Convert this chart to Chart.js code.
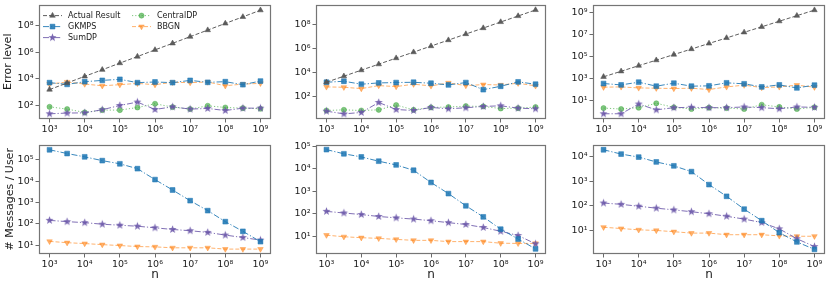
<!DOCTYPE html>
<html>
<head>
<meta charset="utf-8">
<script src="https://cdn.jsdelivr.net/npm/chart.js@4.4.1/dist/chart.umd.min.js"></script>
<style>
  html, body { margin: 0; padding: 0; background: #fff; }
  #fig { position: relative; width: 830px; height: 288px; overflow: hidden; }
  canvas { position: absolute; }
</style>
</head>
<body>
<div id="fig">
  <canvas id="c1" width="280" height="140" style="left:0;top:0"></canvas>
  <canvas id="c2" width="276" height="140" style="left:280px;top:0"></canvas>
  <canvas id="c3" width="274" height="140" style="left:556px;top:0"></canvas>
  <canvas id="c4" width="280" height="148" style="left:0;top:140px"></canvas>
  <canvas id="c5" width="276" height="148" style="left:280px;top:140px"></canvas>
  <canvas id="c6" width="274" height="148" style="left:556px;top:140px"></canvas>
</div>
<script>
/* data */
var nValues = [1000, 3162, 10000, 31623, 100000, 316228, 1000000, 3162278, 10000000, 31622777, 100000000, 316227766, 1000000000];
var xTickExps = [3, 4, 5, 6, 7, 8, 9];

var actualResult = [1.5e3, 4.7e3, 1.5e4, 4.7e4, 1.5e5, 4.7e5, 1.5e6, 4.7e6, 1.5e7, 4.7e7, 1.5e8, 4.7e8, 1.5e9];

// top row: error level
var err1GKMPS = [5000, 3700, 5900, 7400, 8900, 5000, 5600, 5000, 7400, 5300, 5900, 3500, 6600];
var err1SumDP = [22, 25, 26, 45, 94, 169, 47, 74, 50, 56, 39, 59, 59];
var err1CentralDP = [74, 50, 28, 42, 42, 66, 126, 71, 50, 89, 66, 59, 53];
var err1BBGN = [3900, 5600, 3900, 2900, 3500, 4400, 3500, 5300, 5000, 5600, 2900, 3900, 4400];

var err2GKMPS = [1480, 1800, 1020, 1310, 1400, 1480, 1230, 890, 1400, 360, 690, 1590, 1020];
var err2SumDP = [5.9, 3.5, 4.6, 31, 8.1, 6.7, 12, 9.3, 11.3, 14.5, 16.5, 10.5, 9.3];
var err2CentralDP = [6.7, 7.6, 6.7, 7.6, 19, 7.6, 12, 13, 15.5, 14.5, 9.8, 10.5, 13];
var err2BBGN = [610, 570, 440, 780, 650, 1020, 740, 1310, 780, 950, 890, 1230, 740];

var err3GKMPS = [370, 280, 490, 215, 400, 215, 230, 430, 350, 185, 280, 150, 265];
var err3SumDP = [0.71, 0.71, 5.3, 1.6, 2.5, 2.7, 2.5, 2.5, 2.9, 2.5, 2.0, 2.9, 2.7];
var err3CentralDP = [2.3, 1.9, 2.5, 6.2, 2.7, 1.9, 2.5, 2.3, 1.9, 4.6, 2.9, 1.9, 2.7];
var err3BBGN = [174, 185, 150, 141, 132, 141, 107, 185, 265, 162, 185, 265, 174];

// bottom row: messages per user
var msg1GKMPS = [3.0e5, 2.0e5, 1.4e5, 9.3e4, 6.6e4, 3.9e4, 1.2e4, 3.9e3, 1.23e3, 420, 128, 45, 14.7];
var msg1SumDP = [147, 128, 115, 97, 87, 78, 66, 55, 48, 40, 30, 23, 17.5];
var msg1BBGN = [15.2, 13.2, 12, 10.7, 9.7, 8.7, 8.4, 7.6, 7.6, 7.6, 6.6, 6.6, 6.6];

var msg2GKMPS = [7.2e4, 4.7e4, 3.4e4, 2.2e4, 1.5e4, 8.7e3, 2.5e3, 800, 230, 74, 21, 7.7, 2.8];
var msg2SumDP = [130, 110, 94, 77, 67, 59, 50, 41, 34, 25, 17, 11, 4.7];
var msg2BBGN = [11.4, 9.7, 8.8, 8.2, 7.4, 6.7, 6.7, 5.9, 5.9, 5.9, 5.0, 4.9, 4.9];

var msg3GKMPS = [1.95e4, 1.3e4, 9.8e3, 6.2e3, 4.3e3, 2.5e3, 740, 247, 74, 25, 8.1, 3.4, 1.7];
var msg3SumDP = [131, 116, 97, 81, 69, 58, 48, 38, 29, 21, 11.6, 4.6, 2.2];
var msg3BBGN = [13.5, 12, 10.6, 10, 8.9, 7.8, 7.8, 6.7, 6.7, 6.7, 6.0, 5.8, 5.8];

/* look */
Chart.defaults.font.family = "'DejaVu Sans', sans-serif";
Chart.defaults.color = '#1a1a1a';

var SUP = ['\u2070', '\u00b9', '\u00b2', '\u00b3', '\u2074', '\u2075', '\u2076', '\u2077', '\u2078', '\u2079'];
function pow10Label(v) {
  var e = Math.round(Math.log10(v));
  var s = String(Math.abs(e)).split('').map(function(d){ return SUP[+d]; }).join('');
  return '10' + (e < 0 ? '\u207b' : '') + s;
}

// filled 5-point star like matplotlib '*'
function starImage(color, r) {
  var s = Math.ceil(r * 2 + 2);
  var c = document.createElement('canvas');
  c.width = s; c.height = s;
  var g = c.getContext('2d');
  g.fillStyle = color;
  g.beginPath();
  for (var i = 0; i < 10; i++) {
    var rad = i % 2 ? r * 0.42 : r;
    var a = -Math.PI / 2 + i * Math.PI / 5;
    g.lineTo(s / 2 + rad * Math.cos(a), s / 2 + rad * Math.sin(a));
  }
  g.closePath();
  g.fill();
  return c;
}

var styles = {
  'Actual Result': { color: 'rgba(85,85,85,0.95)', dash: [4, 2], point: 'triangle', r: 3.2 },
  'GKMPS': { color: 'rgba(31,119,180,0.88)', dash: [6, 2, 1.2, 2], point: 'rect', r: 3.4 },
  'SumDP': { color: 'rgba(106,86,168,0.85)', dash: [6, 2, 1.2, 2], point: starImage('rgba(106,86,168,0.9)', 4.2), r: 4 },
  'CentralDP': { color: 'rgba(44,160,44,0.6)', dash: [1.2, 2], point: 'circle', r: 2.6 },
  'BBGN': { color: 'rgba(255,127,14,0.6)', dash: [4, 2], point: 'triangle', r: 3.2, rot: 180 }
};

function series(label, values) {
  var st = styles[label];
  return {
    label: label,
    data: nValues.map(function(n, i){ return { x: n, y: values[i] }; }),
    borderColor: st.color,
    borderWidth: 1,
    borderDash: st.dash,
    pointStyle: st.point,
    pointRadius: st.r,
    pointRotation: st.rot || 0,
    pointBackgroundColor: st.color,
    pointBorderColor: st.color,
    pointBorderWidth: 0.6,
    tension: 0,
    fill: false
  };
}

var framePlugin = {
  id: 'frame',
  afterDatasetsDraw: function(chart) {
    var a = chart.chartArea, ctx = chart.ctx;
    ctx.save();
    ctx.strokeStyle = '#757575';
    ctx.lineWidth = 1.2;
    ctx.setLineDash([]);
    ctx.strokeRect(Math.round(a.left) + 0.5, Math.round(a.top) + 0.5,
      Math.round(a.right - a.left) - 1, Math.round(a.bottom - a.top) - 1);
    ctx.restore();
  }
};

var legendPlugin = {
  id: 'mplLegend',
  afterDraw: function(chart) {
    if (!chart.options.plugins.mplLegend || !chart.options.plugins.mplLegend.show) return;
    var a = chart.chartArea, ctx = chart.ctx;
    var colX = [4, 93];
    ctx.save();
    ctx.font = "8px 'DejaVu Sans'";
    ctx.textBaseline = 'middle';
    chart.data.datasets.forEach(function(d, i) {
      var col = i < 3 ? 0 : 1, row = i < 3 ? i : i - 3;
      var x0 = a.left + colX[col], y = a.top + 11 + row * 11;
      ctx.strokeStyle = d.borderColor;
      ctx.lineWidth = 1;
      ctx.setLineDash(d.borderDash);
      ctx.beginPath(); ctx.moveTo(x0, y); ctx.lineTo(x0 + 19, y); ctx.stroke();
      ctx.setLineDash([]);
      ctx.fillStyle = d.pointBackgroundColor;
      ctx.strokeStyle = d.pointBorderColor;
      ctx.lineWidth = d.pointBorderWidth;
      Chart.helpers.drawPoint(ctx, { pointStyle: d.pointStyle, radius: d.pointRadius, rotation: d.pointRotation, borderWidth: d.pointBorderWidth }, x0 + 9.5, y);
      ctx.fillStyle = '#1a1a1a';
      ctx.fillText(d.label, x0 + 25, y + 0.5);
    });
    ctx.restore();
  }
};

var panels = [
  { id: 'c1', row: 0, yw: 39, pr: 9, yLim: [0.95, 9.6], yTicks: [2, 4, 6, 8], title: 'Error level', titlePad: 1.7, legend: true,
    sets: [series('Actual Result', actualResult), series('GKMPS', err1GKMPS), series('SumDP', err1SumDP), series('CentralDP', err1CentralDP), series('BBGN', err1BBGN)] },
  { id: 'c2', row: 0, yw: 36, pr: 10, yLim: [0.12, 9.62], yTicks: [2, 4, 6, 8],
    sets: [series('Actual Result', actualResult), series('GKMPS', err2GKMPS), series('SumDP', err2SumDP), series('CentralDP', err2CentralDP), series('BBGN', err2BBGN)] },
  { id: 'c3', row: 0, yw: 37, pr: 5, yLim: [-0.62, 9.67], yTicks: [1, 3, 5, 7, 9],
    sets: [series('Actual Result', actualResult), series('GKMPS', err3GKMPS), series('SumDP', err3SumDP), series('CentralDP', err3CentralDP), series('BBGN', err3BBGN)] },
  { id: 'c4', row: 1, yw: 39, pr: 9, yLim: [0.59, 5.72], yTicks: [1, 2, 3, 4, 5], title: '# Messages / User', titlePad: 3.4,
    sets: [series('GKMPS', msg1GKMPS), series('SumDP', msg1SumDP), series('BBGN', msg1BBGN)] },
  { id: 'c5', row: 1, yw: 36, pr: 10, yLim: [0.22, 5.08], yTicks: [1, 2, 3, 4, 5],
    sets: [series('GKMPS', msg2GKMPS), series('SumDP', msg2SumDP), series('BBGN', msg2BBGN)] },
  { id: 'c6', row: 1, yw: 37, pr: 5, yLim: [0.04, 4.5], yTicks: [1, 2, 3, 4],
    sets: [series('GKMPS', msg3GKMPS), series('SumDP', msg3SumDP), series('BBGN', msg3BBGN)] }
];

panels.forEach(function(p) {
  var bottomRow = p.row === 1;
  var tickFont = { size: 9.5 };
  var gridOpts = { drawOnChartArea: false, drawTicks: true, tickLength: 3.5, color: '#444', tickWidth: 0.8 };
  new Chart(document.getElementById(p.id), {
    type: 'line',
    data: { datasets: p.sets },
    options: {
      responsive: false,
      animation: false,
      devicePixelRatio: 1,
      layout: { padding: { top: bottomRow ? 2 : 4, right: p.pr, left: 0, bottom: 0 } },
      plugins: { legend: { display: false }, tooltip: { enabled: false }, mplLegend: { show: !!p.legend } },
      scales: {
        x: {
          type: 'logarithmic',
          bounds: 'data',
          min: Math.pow(10, 2.7),
          max: Math.pow(10, 9.3),
          afterBuildTicks: function(s) { s.ticks = xTickExps.map(function(e){ return { value: Math.pow(10, e) }; }); },
          afterFit: function(s) { s.height = bottomRow ? 34 : 21; s.paddingLeft = 0; s.paddingRight = 0; },
          ticks: { callback: function(v){ return pow10Label(v); }, autoSkip: false, maxRotation: 0, font: tickFont, padding: 1 },
          grid: gridOpts,
          border: { display: false },
          title: { display: bottomRow, text: 'n', font: { size: 12 }, padding: { top: 0, bottom: 5.5 } }
        },
        y: {
          type: 'logarithmic',
          bounds: 'data',
          min: Math.pow(10, p.yLim[0]),
          max: Math.pow(10, p.yLim[1]),
          afterBuildTicks: function(s) { s.ticks = p.yTicks.map(function(e){ return { value: Math.pow(10, e) }; }); },
          afterFit: function(s) { s.width = p.yw; s.paddingTop = 0; s.paddingBottom = 0; },
          ticks: { callback: function(v){ return pow10Label(v); }, autoSkip: false, font: tickFont, padding: 2 },
          grid: gridOpts,
          border: { display: false },
          title: { display: !!p.title, text: p.title || '', font: { size: 11 }, padding: { top: p.titlePad || 0, bottom: 0 } }
        }
      }
    },
    plugins: [framePlugin, legendPlugin]
  });
});
</script>
</body>
</html>
